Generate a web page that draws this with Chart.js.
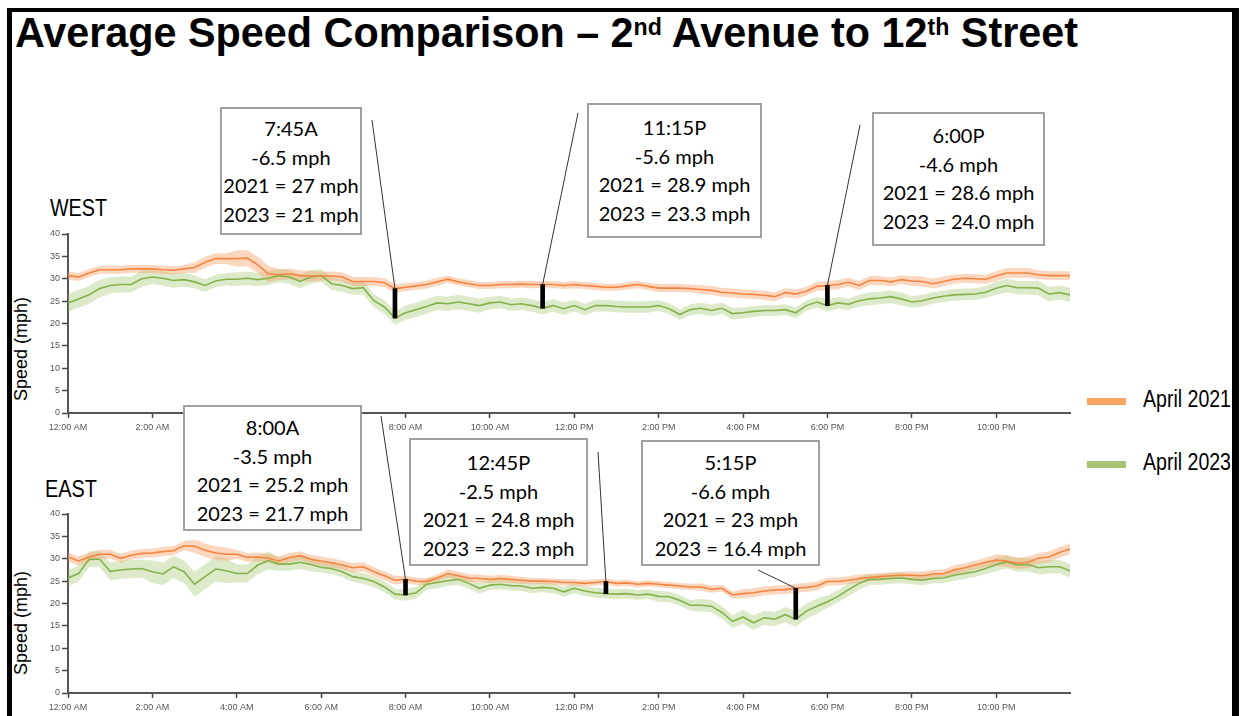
<!DOCTYPE html>
<html>
<head>
<meta charset="utf-8">
<title>Average Speed Comparison</title>
<script src="https://cdn.jsdelivr.net/npm/chart.js"></script>
<style>
  body { margin: 0; width: 1242px; height: 716px; overflow: hidden; background: #fff; position: relative; font-family: "Liberation Sans", Arial, sans-serif; }
  #frame { position: absolute; left: 7px; top: 8px; width: 1220px; height: 760px; border-left: 5px solid #000; border-right: 7px solid #000; border-top: 4px solid #000; }
  #title { position: absolute; left: 15px; top: 12px; font-family: "Liberation Sans Narrow", "Arial Narrow", "Liberation Sans", sans-serif; font-weight: bold; font-size: 42px; line-height: 42px; white-space: nowrap; transform-origin: 0 0; color: #000; }
  #title sup { font-size: 0.56em; vertical-align: 0.5em; line-height: 0; }
  .dir { position: absolute; font-family: "Liberation Sans Narrow", "Liberation Sans", sans-serif; font-size: 24px; line-height: 24px; transform-origin: 0 0; white-space: nowrap; }
  .ytitle { position: absolute; font-size: 18px; line-height: 20px; white-space: nowrap; transform: translate(-50%, -50%) rotate(-90deg); }
  .wrap { position: absolute; }
  .note { position: absolute; box-sizing: border-box; background: #fff; border: 2px solid #a0a0a0; text-align: center; font-family: Lato, "Open Sans", sans-serif; font-size: 20px; line-height: 28.7px; color: #000; z-index: 5; }
  .lg { position: absolute; }
  .lg .sw { position: absolute; width: 39px; height: 7px; }
  .lg .tx { position: absolute; left: 56px; top: -12px; font-family: "Liberation Sans Narrow", "Liberation Sans", sans-serif; font-size: 23px; line-height: 26px; white-space: nowrap; transform-origin: 0 0; }
</style>
</head>
<body>
<div id="frame"></div>
<div id="title">Average Speed Comparison – 2<sup>nd</sup> Avenue to 12<sup>th</sup> Street</div>

<div class="dir" id="westLbl" style="left:50px; top:196px;">WEST</div>
<div class="dir" id="eastLbl" style="left:45px; top:477px;">EAST</div>
<div class="ytitle" style="left:21px; top:349px;">Speed (mph)</div>
<div class="ytitle" style="left:21px; top:623px;">Speed (mph)</div>

<div class="wrap" style="left:28px; top:100px;"><canvas id="westChart" width="1050" height="339"></canvas></div>
<div class="wrap" style="left:28px; top:400px;"><canvas id="eastChart" width="1050" height="319"></canvas></div>

<div id="notes"></div>

<div class="lg" style="left:1087px; top:398px;"><div class="sw" style="background:#f8a565"></div><div class="tx" id="lg1">April 2021</div></div>
<div class="lg" style="left:1087px; top:461px;"><div class="sw" style="background:#a6c474"></div><div class="tx" id="lg2">April 2023</div></div>

<script>
// 15 minute slots, 12:00 AM .. 11:45 PM
const times = [];
for (let i = 0; i < 96; i++) times.push(i / 4);

const tickLabels = ['12:00 AM', '2:00 AM', '4:00 AM', '6:00 AM', '8:00 AM', '10:00 AM',
                    '12:00 PM', '2:00 PM', '4:00 PM', '6:00 PM', '8:00 PM', '10:00 PM'];

const west2021 = [30.7,30.4,31.3,32.0,32.0,32.0,32.2,32.2,32.2,32.0,31.9,32.2,32.5,33.7,34.5,34.5,
  34.5,34.6,33.1,31.1,30.9,31.1,30.7,30.6,30.6,30.6,30.4,29.4,29.4,29.4,29.1,27.8,
  28.1,28.4,28.7,29.3,29.9,29.3,28.9,28.5,28.5,28.7,28.7,28.8,28.7,28.7,28.7,28.5,
  28.7,28.5,28.3,28.1,28.1,28.4,28.7,28.3,27.9,27.9,27.9,27.8,27.6,27.4,27.0,26.8,
  26.6,26.5,26.3,26.0,26.9,26.6,27.2,28.3,28.5,28.7,29.2,28.5,29.6,29.6,29.3,29.8,
  29.5,29.4,28.9,29.4,29.9,30.1,30.0,29.9,30.6,31.3,31.3,31.3,30.9,30.7,30.7,30.7];
const west2023 = [24.6,25.5,26.4,27.8,28.5,28.7,28.7,30.0,30.4,30.1,29.6,29.8,29.3,28.5,29.5,29.9,
  29.9,30.1,29.8,30.1,30.7,30.4,29.4,30.4,30.7,28.9,28.5,27.8,28.0,25.1,23.7,21.2,
  22.4,23.1,23.8,24.6,24.4,24.8,24.4,24.0,24.6,24.8,24.2,24.4,24.0,23.4,24.0,23.3,
  24.0,23.1,24.0,24.0,23.8,23.7,23.7,23.7,24.0,23.3,22.0,23.1,23.4,22.9,23.4,22.2,
  22.4,22.7,22.9,22.9,23.1,22.4,24.0,24.8,24.0,24.6,24.3,25.1,25.5,25.7,26.0,25.5,
  24.8,25.1,25.7,26.1,26.4,26.5,26.6,27.0,27.9,28.5,28.0,28.0,27.9,26.6,26.9,26.4];
const east2021 = [30.4,29.5,30.4,31.0,31.0,30.1,30.8,31.2,31.3,31.6,31.8,32.9,32.8,31.9,31.3,31.0,
  31.0,30.3,30.4,30.1,29.5,30.3,30.7,29.9,29.5,29.1,28.6,28.0,28.2,27.1,26.2,25.2,
  25.4,25.0,24.9,25.7,26.7,26.2,25.7,25.6,25.4,25.6,25.4,25.2,25.0,25.0,24.9,24.7,
  24.7,24.5,24.7,24.9,24.5,24.6,24.3,24.5,24.3,24.1,23.9,23.7,23.7,23.2,23.4,21.9,
  22.2,22.4,22.8,23.0,23.1,23.4,23.6,23.9,24.9,24.9,25.2,25.6,25.8,26.0,26.2,26.3,
  26.3,26.2,26.6,26.7,27.5,28.0,28.6,29.2,29.7,29.5,29.0,29.2,30.1,30.4,31.4,32.2];
const east2023 = [25.7,26.7,29.9,29.9,27.2,27.5,27.7,27.8,27.1,26.6,28.2,27.1,24.3,26.0,27.7,27.3,
  26.7,26.7,28.6,29.6,28.8,28.8,29.2,28.7,28.1,27.8,27.1,26.0,25.6,24.9,23.7,22.1,
  21.9,22.4,24.3,24.7,25.1,25.4,24.5,23.4,24.1,24.3,24.0,23.9,23.4,23.6,23.4,22.6,
  23.4,22.8,22.4,22.2,22.1,22.2,21.9,22.1,21.6,21.5,20.7,19.6,19.6,19.4,18.0,16.0,
  17.0,15.7,16.8,16.5,17.5,16.5,18.3,19.4,20.4,21.6,23.1,24.5,25.4,25.4,25.6,25.7,
  25.4,25.2,25.6,25.7,26.3,26.7,27.1,27.8,28.7,29.3,28.6,28.7,28.0,28.2,28.2,27.3];

// half width of the shaded band, one value per hour
const westSpread2021 = [0.9,0.9,0.9,1.2,1.8,1.2,1.0,1.0,0.9,0.8,0.8,0.8,0.8,0.8,0.9,1.0,1.0,1.0,1.0,1.0,1.1,1.0,1.1,1.0];
const westSpread2023 = [2.0,1.8,1.6,1.4,1.5,1.5,1.4,1.5,1.6,1.6,1.4,1.4,1.3,1.3,1.2,1.3,1.2,1.2,1.3,1.4,1.3,1.3,1.5,1.6];
const eastSpread2021 = [1.0,1.0,1.0,1.5,1.0,1.0,1.0,1.0,0.8,0.9,0.8,0.7,0.7,0.7,0.7,0.8,1.0,1.0,0.9,0.8,0.9,1.0,1.3,1.2];
const eastSpread2023 = [1.8,2.0,2.5,2.8,2.0,1.5,1.2,1.2,1.3,1.2,1.1,1.1,1.1,1.1,1.2,1.4,1.6,1.7,1.4,1.2,1.1,1.2,1.5,1.5];

// times (hours) of the marked differences
const westMarks = [7.75, 11.25, 18];
const eastMarks = [8, 12.75, 17.25];

const westNotes = [
  ['7:45A', '-6.5 mph', '2021 = 27 mph', '2023 = 21 mph'],
  ['11:15P', '-5.6 mph', '2021 = 28.9 mph', '2023 = 23.3 mph'],
  ['6:00P', '-4.6 mph', '2021 = 28.6 mph', '2023 = 24.0 mph']
];
const eastNotes = [
  ['8:00A', '-3.5 mph', '2021 = 25.2 mph', '2023 = 21.7 mph'],
  ['12:45P', '-2.5 mph', '2021 = 24.8 mph', '2023 = 22.3 mph'],
  ['5:15P', '-6.6 mph', '2021 = 23 mph', '2023 = 16.4 mph']
];

// note boxes: left, top, width, height, padding-top   /  leader line start (page px)
const westBoxes = [[220, 107, 142, 128, 5], [587, 103, 175, 135, 8], [872, 112, 173, 134, 7]];
const eastBoxes = [[183, 405, 179, 126, 6], [409, 438, 179, 128, 8], [641, 440, 179, 126, 6]];
const westLeaders = [[372, 120], [578, 113], [860, 125]];
const eastLeaders = [[381, 416], [598, 452], [758, 570]];

const ORANGE = '#f4843f';
const GREEN = '#84b24a';
const ORANGE_BAND = 'rgba(247,150,90,0.38)';
const GREEN_BAND = 'rgba(140,185,80,0.30)';

// no narrow font installed: squeeze text to the widths of the original
function fitWidth(id, w) {
  const el = document.getElementById(id);
  const cur = el.getBoundingClientRect().width;
  el.style.transform = 'scaleX(' + (w / cur) + ')';
}
fitWidth('title', 1063);
fitWidth('westLbl', 57);
fitWidth('eastLbl', 52);
fitWidth('lg1', 88);
fitWidth('lg2', 88);

const notesDiv = document.getElementById('notes');
function addNotes(notes, boxes) {
  notes.forEach((lines, k) => {
    const b = boxes[k];
    const d = document.createElement('div');
    d.className = 'note';
    d.style.left = b[0] + 'px';
    d.style.top = b[1] + 'px';
    d.style.width = b[2] + 'px';
    d.style.height = b[3] + 'px';
    d.style.paddingTop = b[4] + 'px';
    d.innerHTML = lines.join('<br>');
    notesDiv.appendChild(d);
  });
}
addNotes(westNotes, westBoxes);
addNotes(eastNotes, eastBoxes);

const leaderLines = {
  id: 'leaderLines',
  afterDatasetsDraw(chart, args, opts) {
    const ctx = chart.ctx;
    ctx.save();
    ctx.strokeStyle = '#333';
    ctx.lineWidth = 1;
    opts.marks.forEach((h, k) => {
      const i = times.indexOf(h);
      const x = chart.scales.x.getPixelForValue(h);
      const y = chart.scales.y.getPixelForValue(opts.series[i]);
      ctx.beginPath();
      ctx.moveTo(opts.from[k][0] - opts.left, opts.from[k][1] - opts.top);
      ctx.lineTo(x, y);
      ctx.stroke();
    });
    ctx.restore();
  }
};

function band(vals, spread, sign) {
  return times.map((t, i) => ({ x: t, y: vals[i] + sign * spread[Math.floor(i / 4)] }));
}

function makeChart(id, s2021, s2023, sp2021, sp2023, marks, from, top, padTop) {
  const pts = vals => times.map((t, i) => ({ x: t, y: vals[i] }));
  const bars = marks.map(h => {
    const i = times.indexOf(h);
    return { x: h, y: [s2023[i], s2021[i]] };
  });
  const tickFont = { family: '"Liberation Sans Narrow", "Liberation Sans", sans-serif', size: 9 };
  return new Chart(document.getElementById(id), {
    type: 'line',
    data: {
      datasets: [
        { data: band(s2021, sp2021, 1), fill: '+1', backgroundColor: ORANGE_BAND, borderWidth: 0, pointRadius: 0, order: 3 },
        { data: band(s2021, sp2021, -1), fill: false, borderWidth: 0, pointRadius: 0, order: 3 },
        { data: band(s2023, sp2023, 1), fill: '+1', backgroundColor: GREEN_BAND, borderWidth: 0, pointRadius: 0, order: 3 },
        { data: band(s2023, sp2023, -1), fill: false, borderWidth: 0, pointRadius: 0, order: 3 },
        { label: 'April 2021', data: pts(s2021), borderColor: ORANGE, borderWidth: 1.6, pointRadius: 0, fill: false, order: 1 },
        { label: 'April 2023', data: pts(s2023), borderColor: GREEN, borderWidth: 1.6, pointRadius: 0, fill: false, order: 1 },
        { type: 'bar', data: bars, backgroundColor: '#000', barThickness: 4, order: 0 }
      ]
    },
    options: {
      responsive: false,
      animation: false,
      events: [],
      layout: { padding: { top: padTop, right: 8, left: 0, bottom: 0 } },
      plugins: {
        legend: { display: false },
        tooltip: { enabled: false },
        leaderLines: { marks: marks, series: s2021, from: from, left: 28, top: top }
      },
      scales: {
        x: {
          type: 'linear', min: 0, max: 23.75, offset: false,
          grid: { offset: false, drawOnChartArea: false, drawTicks: true, tickLength: 5, tickColor: '#444', tickWidth: 1.5 },
          border: { display: true, color: '#555', width: 2 },
          ticks: {
            stepSize: 2, includeBounds: false, autoSkip: false, maxRotation: 0, padding: 4,
            color: '#555', font: tickFont,
            callback: v => tickLabels[v / 2]
          },
          afterFit: s => { s.height = 26; }
        },
        y: {
          min: 0, max: 40,
          grid: { drawOnChartArea: false, drawTicks: true, tickLength: 6, tickColor: '#444', tickWidth: 1.5 },
          border: { display: true, color: '#555', width: 2 },
          ticks: { stepSize: 5, padding: 2, color: '#555', font: tickFont },
          afterFit: s => { s.width = 40; }
        }
      }
    },
    plugins: [leaderLines]
  });
}

makeChart('westChart', west2021, west2023, westSpread2021, westSpread2023, westMarks, westLeaders, 100, 134);
makeChart('eastChart', east2021, east2023, eastSpread2021, eastSpread2023, eastMarks, eastLeaders, 400, 114);
</script>
</body>
</html>
